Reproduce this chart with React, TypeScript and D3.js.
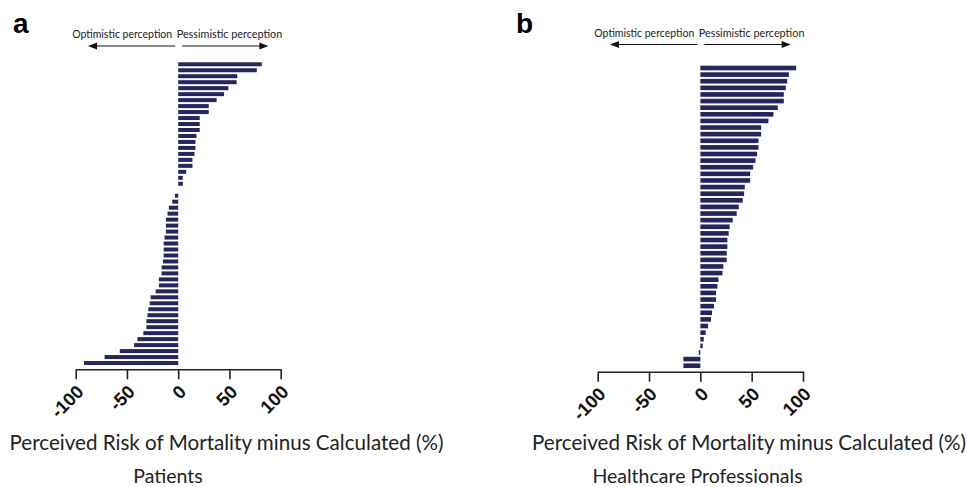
import { useEffect, useRef } from "react";
import * as d3 from "d3";

// values, top to bottom
const patientValues = [
  81.5, 76.7, 57.6, 57, 48.9, 44.7, 37.5, 29.8, 29.8, 21, 21, 21, 17.8, 16.8, 16.8, 15.9, 13.9, 13.9,
  7.8, 4.5, 4.5, 0, -3.2, -5.8, -9.1, -10.4, -12, -12, -12, -13.3, -14.2, -14.2, -14.2, -14.9, -16.2,
  -16.2, -18.8, -18.8, -22, -26.9, -27.8, -29.1, -30, -31, -31, -34, -39.8, -43, -57, -71.8, -91.9,
];
const professionalValues = [
  93.3, 86.2, 84.6, 83.3, 81.3, 81.3, 75.4, 71.2, 66.3, 59.2, 59.2, 56.6, 56.6, 55.3, 53.7, 51.4,
  48.5, 48.5, 43.3, 42.6, 41.3, 37.4, 35.4, 31.5, 28.6, 27.6, 26.3, 26.3, 25.7, 25.7, 22.4, 21.5,
  17.6, 16.6, 15.3, 15.3, 13.3, 11.4, 10.4, 7.5, 5.2, 3.3, 2.3, -1.5, -16.5, -16.5,
];
const tickValues = [-100, -50, 0, 50, 100];
const panelLabels = ["a", "b"];
const groupNames = ["Patients", "Healthcare Professionals"];
const xTitle = "Perceived Risk of Mortality minus Calculated (%)";
const leftLabel = "Optimistic perception";
const rightLabel = "Pessimistic perception";

const WIDTH = 967;
const HEIGHT = 487;
const BAR = "#27255f";
const TEXT_FONT = "Lato, 'Open Sans', sans-serif";

const panels = [
  { values: patientValues, x0: 75.7, x1: 280.7, y0: 60.3, y1: 367, axisY: 369.3, arrowY: 46, labelX: 13, titleX: 226.5, groupX: 168, pad: 0.33 },
  { values: professionalValues, x0: 597.7, x1: 803, y0: 63.7, y1: 370, axisY: 371.7, arrowY: 44.5, labelX: 516, titleX: 749, groupX: 697.5, pad: 0.3 },
];

const App = () => {
  const svgRef = useRef(null);

  useEffect(() => {
    const svg = d3.select(svgRef.current);
    svg.selectAll("*").remove();

    panels.forEach((p, i) => {
      const g = svg.append("g");

      const x = d3.scaleLinear().domain([-100, 100]).range([p.x0, p.x1]);
      const y = d3.scaleBand()
        .domain(d3.range(p.values.length).map(String))
        .range([p.y0, p.y1])
        .padding(p.pad);

      // bars
      g.selectAll("rect.bar")
        .data(p.values)
        .enter()
        .append("rect")
        .attr("class", "bar")
        .attr("x", d => x(Math.min(0, d)))
        .attr("y", (d, j) => y(String(j)))
        .attr("width", d => Math.abs(x(d) - x(0)))
        .attr("height", y.bandwidth())
        .attr("fill", BAR);

      // x axis
      const axis = g.append("g")
        .attr("transform", `translate(0,${p.axisY})`)
        .call(d3.axisBottom(x).tickValues(tickValues).tickSize(10).tickSizeOuter(0).tickFormat(d => String(d)));
      axis.select(".domain").attr("stroke", "#222").attr("stroke-width", 1.6);
      axis.selectAll(".tick line").attr("stroke", "#222").attr("stroke-width", 1.6);
      axis.selectAll(".tick text")
        .attr("x", 0)
        .attr("y", 0)
        .attr("dy", "0.35em")
        .attr("text-anchor", "end")
        .attr("transform", "translate(4,19) rotate(-45)")
        .attr("font-family", "'Liberation Sans', Arial, sans-serif")
        .attr("font-weight", "bold")
        .attr("font-size", 18.5)
        .attr("fill", "#111");

      // panel letter
      g.append("text")
        .attr("x", p.labelX)
        .attr("y", 33)
        .attr("font-family", "'Liberation Sans', Arial, sans-serif")
        .attr("font-weight", "bold")
        .attr("font-size", 28)
        .text(panelLabels[i]);

      // direction arrows
      const zx = x(0);
      const arrowY = p.arrowY;
      g.append("text")
        .attr("x", zx - 6)
        .attr("y", arrowY - 8)
        .attr("text-anchor", "end")
        .attr("font-family", TEXT_FONT)
        .attr("font-size", 10.5)
        .attr("fill", "#222")
        .text(leftLabel);
      g.append("text")
        .attr("x", zx - 1.5)
        .attr("y", arrowY - 8)
        .attr("font-family", TEXT_FONT)
        .attr("font-size", 10.8)
        .attr("fill", "#222")
        .text(rightLabel);

      const arrows = [
        { from: zx - 3, to: x(-88) },
        { from: zx + 4, to: x(88) },
      ];
      arrows.forEach(a => {
        const dir = Math.sign(a.to - a.from);
        g.append("line")
          .attr("x1", a.from).attr("x2", a.to - dir * 6)
          .attr("y1", arrowY).attr("y2", arrowY)
          .attr("stroke", "#111").attr("stroke-width", 1.2);
        g.append("path")
          .attr("d", `M${a.to},${arrowY} L${a.to - dir * 9},${arrowY - 3.5} L${a.to - dir * 9},${arrowY + 3.5} Z`)
          .attr("fill", "#111");
      });

      // titles
      g.append("text")
        .attr("x", p.titleX)
        .attr("y", 450)
        .attr("text-anchor", "middle")
        .attr("font-family", TEXT_FONT)
        .attr("font-size", 20.6)
        .attr("fill", "#222")
        .text(xTitle);
      g.append("text")
        .attr("x", p.groupX)
        .attr("y", 483)
        .attr("text-anchor", "middle")
        .attr("font-family", TEXT_FONT)
        .attr("font-size", 19.5)
        .attr("fill", "#222")
        .text(groupNames[i]);
    });
  }, []);

  return (
    <svg
      ref={svgRef}
      width={WIDTH}
      height={HEIGHT}
      style={{ position: "absolute", left: 0, top: 0, background: "#fff" }}
    />
  );
};

export default App;
